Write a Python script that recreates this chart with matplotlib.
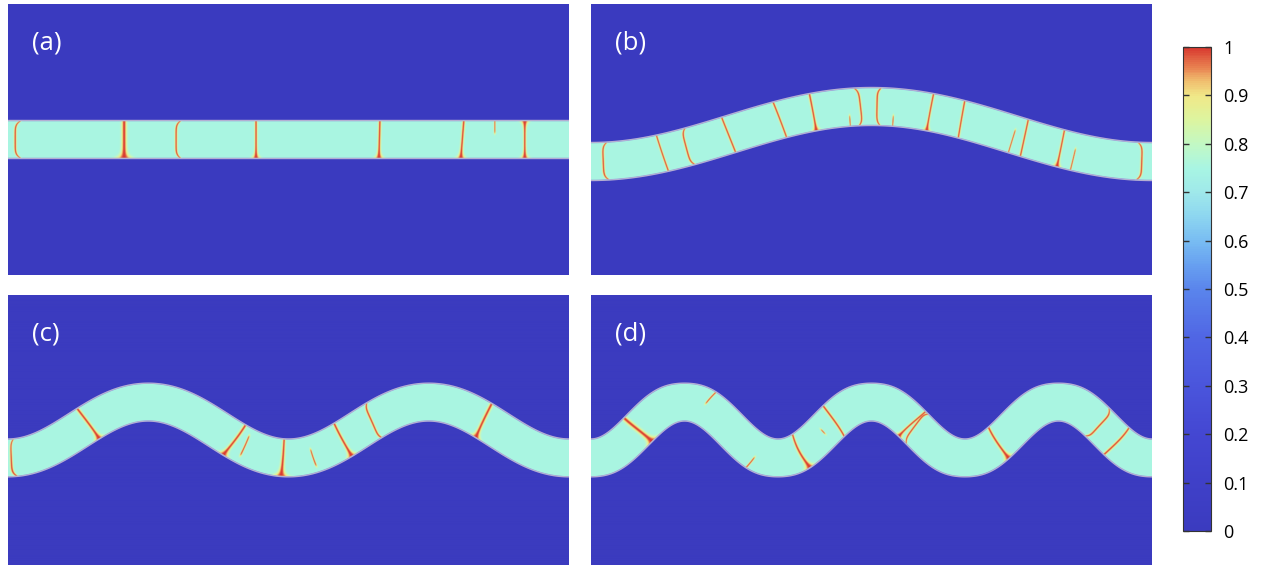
import numpy as np
import matplotlib
matplotlib.use("Agg")
import matplotlib.pyplot as plt
from matplotlib.colors import LinearSegmentedColormap

# ---------- data ----------
# domain of each panel (um) and layer half thickness
L = 561.0
H = 271.0
half_t = 19.0

panel_names = ["(a)", "(b)", "(c)", "(d)"]
n_waves = [0, 1, 2, 3]
wave_amp = [0.0, 27.5, 28.0, 28.0]
wave_off = [0.0, 5.5, 0.0, 0.0]

# cracks per panel: position along the layer, tilt (top-bottom shift), bend of the ends,
# span across the layer (-1 bottom .. 1 top), width, flare side (-1 bottom, 1 top, 2 both, 0 none)
crk_x = [
    [7, 116, 168, 248, 371, 453, 487, 517],
    [12, 73, 95, 139, 191, 222, 258, 271, 286, 303, 339, 372, 423, 435, 471, 484, 551],
    [3, 82, 225, 238, 275, 304, 334, 362, 477],
    [49, 111, 167, 207, 232, 242, 319, 325, 405, 509, 526],
]
crk_tilt = [
    [0, 0, 0, 0, 1, 3, 0, 0],
    [0, -4, 0, -3, -4, 0, 0, -3, 0, 0, 0, -3, 0, -3, -2, 0, 0],
    [0, -3, 4, -2, 0, 0, 1, 4, -3],
    [-4, 2, 0, 2, 0, 3, 3, -3, 3, 0, 2],
]
crk_bend = [
    [6, 0, 5, 0, 0, 0, 0, 0],
    [5, 0, 4, 0, 0, 0, 0, -4, 4, 0, 0, 0, 0, 0, 0, 0, -5],
    [4, 0, 0, 0, 0, 0, 0, 3, 0],
    [0, 0, 0, 0, 0, 0, 0, 3, 0, -4, 0],
]
crk_v0 = [
    [-1.2, -1.2, -1.2, -1.2, -1.2, -1.2, 0.3, -1.2],
    [-1.2, -1.2, -1.2, -1.2, -1.2, -1.2, -1.2, -1.2, -1.2, -1.2, -1.2, -1.2, -1.2, -1.2, -1.2, -1.2, -1.2],
    [-1.2, -1.2, -1.2, -0.6, -1.2, -0.7, -1.2, -1.2, -1.2],
    [-1.2, 0.2, -1.2, -1.2, -0.2, -1.2, -1.2, -1.2, -1.2, -1.2, -1.2],
]
crk_v1 = [
    [1.2, 1.2, 1.2, 1.2, 1.2, 1.2, 1.2, 1.2],
    [1.2, 1.2, 1.2, 1.2, 1.2, 1.2, -0.4, 1.2, 1.2, -0.4, 1.2, 1.2, 0.3, 1.2, 1.2, 0.2, 1.2],
    [1.2, 1.2, 1.2, 0.6, 1.2, 0.3, 1.2, 1.2, 1.2],
    [1.2, 1.2, -0.3, 1.2, 0.2, 1.2, 1.2, 1.2, 1.2, 1.2, 1.2],
]
crk_w = [
    [1.2, 2.4, 1.2, 1.3, 1.4, 1.4, 0.8, 1.3],
    [1.2, 1.1, 1.2, 1.2, 1.2, 1.3, 0.8, 1.2, 1.2, 0.8, 1.2, 1.2, 0.8, 1.2, 1.2, 0.8, 1.2],
    [1.2, 1.7, 1.7, 1.0, 1.7, 0.9, 1.6, 1.3, 1.8],
    [2.3, 0.9, 0.9, 1.6, 0.8, 1.4, 1.3, 1.2, 1.6, 1.3, 1.4],
]
crk_flare = [
    [0, -1, 0, -1, -1, -1, 0, 2],
    [0, 0, 0, 0, 0, -1, 0, 0, 0, 0, -1, 0, 0, 0, -1, 0, 0],
    [0, -1, -1, 0, -1, 0, -1, 0, -1],
    [-1, 0, 0, -1, 0, 0, -1, 0, -1, 0, 0],
]

# colour scale (0 .. 1)
cmap_pos = [0.0, 0.1, 0.2, 0.3, 0.4, 0.5, 0.55, 0.6, 0.65, 0.7, 0.75, 0.8, 0.85, 0.9, 0.93, 0.96, 1.0]
cmap_col = ["#3b3bbf", "#3f40c8", "#4447d2", "#4a55dc", "#5066e4", "#5a85ec", "#67a0f0",
            "#78bcf2", "#8dd6f0", "#9fe8ea", "#a8f5e3", "#c2f8c4", "#dcf5a0", "#f0e888",
            "#f0c070", "#e88050", "#d83a30"]
cbar_ticks = [0, 0.1, 0.2, 0.3, 0.4, 0.5, 0.6, 0.7, 0.8, 0.9, 1]
cbar_labels = ["0", "0.1", "0.2", "0.3", "0.4", "0.5", "0.6", "0.7", "0.8", "0.9", "1"]

cmap = LinearSegmentedColormap.from_list("pf", list(zip(cmap_pos, cmap_col)))


def phase_field(k):
    x = np.linspace(0, L, 1122)
    y = np.linspace(-H / 2, H / 2, 542)
    X, Y = np.meshgrid(x, y)
    kk = 2 * np.pi * n_waves[k] / L
    yc = wave_off[k] - wave_amp[k] * np.cos(kk * X)
    dyc = wave_amp[k] * kk * np.sin(kk * X)
    g = np.sqrt(1 + dyc ** 2)
    n = (Y - yc) / g
    x0 = X + (Y - yc) * dyc / g ** 2
    v = n / half_t
    band = np.clip((half_t - np.abs(n)) / 1.2 + 0.5, 0, 1)
    crack = np.zeros_like(X)
    for i in range(len(crk_x[k])):
        xc = crk_x[k][i] + crk_tilt[k][i] * (v + 1) / 2 + crk_bend[k][i] * np.abs(v) ** 6
        w = crk_w[k][i] * np.ones_like(X)
        fl = crk_flare[k][i]
        if fl in (-1, 2):
            w = w * (1 + 3.0 * np.exp(-np.clip(1 + v, 0, None) / 0.15))
        if fl in (1, 2):
            w = w * (1 + 3.0 * np.exp(-np.clip(1 - v, 0, None) / 0.15))
        dist = (x0 - xc) * g
        span = 1 / (1 + np.exp(-(v - crk_v0[k][i]) / 0.04)) / (1 + np.exp(-(crk_v1[k][i] - v) / 0.04))
        crack = np.maximum(crack, np.exp(-(dist / w) ** 2) * span)
    field = band * (0.75 + 0.25 * crack)
    return X, Y, np.abs(n), field


fig = plt.figure(figsize=(12.65, 5.65), dpi=100)
W, Hf = 1265.0, 565.0
boxes = [(8, 4, 561, 271), (591, 4, 561, 271), (8, 295, 561, 270), (591, 295, 561, 270)]

for k in range(4):
    bx, by, bw, bh = boxes[k]
    ax = fig.add_axes([bx / W, 1 - (by + bh) / Hf, bw / W, bh / Hf])
    X, Y, nabs, field = phase_field(k)
    im = ax.imshow(field, cmap=cmap, vmin=0, vmax=1, origin="lower",
                   extent=[0, L, -H / 2, H / 2], aspect="auto", interpolation="bilinear")
    ax.contour(X, Y, nabs, levels=[half_t], colors="#b4aed2", linewidths=1.0)
    ax.set_xlim(0, L)
    ax.set_ylim(-H / 2, H / 2)
    ax.axis("off")
    ax.text(24 / bw, 1 - 39 / bh, panel_names[k], transform=ax.transAxes, color="white",
            fontsize=18.5, family="Open Sans", ha="left", va="center")

cax = fig.add_axes([1183 / W, 1 - 531 / Hf, 28 / W, 484 / Hf])
cb = fig.colorbar(im, cax=cax, ticks=cbar_ticks)
cb.ax.set_yticklabels(cbar_labels)
cb.outline.set_linewidth(0.8)
cb.outline.set_edgecolor("#333333")
cax.tick_params(direction="in", length=4, width=1, left=True, right=True,
                labelleft=False, labelright=True, labelsize=13, pad=9, color="#333333")
for t in cax.get_yticklabels():
    t.set_family("Open Sans")

fig.savefig("out.png", dpi=100)
